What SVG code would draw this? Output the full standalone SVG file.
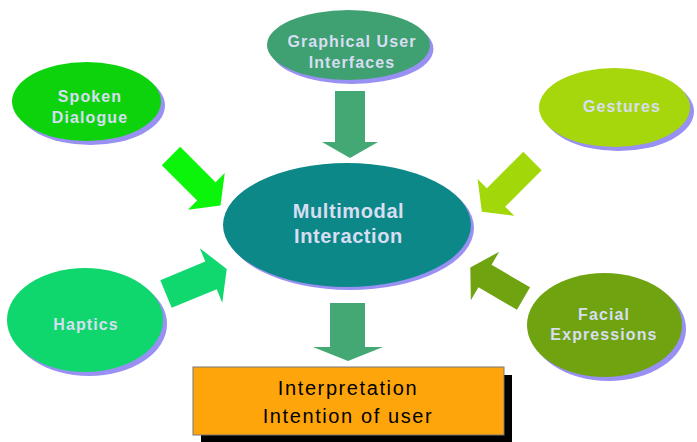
<svg xmlns="http://www.w3.org/2000/svg" width="697" height="442" viewBox="0 0 697 442">
<style>
.shadow{fill:#9890f2}
.lbl{font-family:"Liberation Sans",Arial,sans-serif;font-weight:bold;font-size:16px;fill:#d8def2;text-anchor:middle;letter-spacing:1.1px}
.big{font-size:20px;letter-spacing:0.6px}
.box{font-family:"Liberation Sans",Arial,sans-serif;font-size:20px;fill:#000;text-anchor:middle;letter-spacing:1.6px}
</style>
<rect width="697" height="442" fill="#fff"/>
<g id="connectors">
  <polygon fill="#0af50a" points="0,-13 50,-13 50,-26 70,0 50,26 50,13 0,13" transform="translate(171,156) rotate(45)"/>
  <polygon fill="#a2d80a" points="0,-13 51.6,-13 51.6,-26 71.6,0 51.6,26 51.6,13 0,13" transform="translate(532.5,161) rotate(135)"/>
  <polygon fill="#10d76e" points="0,-15 48.7,-15 48.7,-29.5 65.7,0 48.7,29.5 48.7,15 0,15" transform="translate(166,294) rotate(-22.4)"/>
  <polygon fill="#6fa30f" points="0,-13 44.6,-13 44.6,-28 61.6,0 44.6,28 44.6,13 0,13" transform="translate(523.5,298.5) rotate(-149.7)"/>
  <polygon fill="#43a874" points="335,91 365,91 365,142 378,142 350,158 322,142 335,142"/>
  <polygon fill="#43a874" points="330,303 365,303 365,347 383,347 348,361 313,347 330,347"/>
</g>
<g id="spoken">
  <ellipse class="shadow" cx="90.5" cy="105.5" rx="74.5" ry="39.5"/>
  <ellipse cx="86.5" cy="101.5" rx="74.5" ry="39.5" fill="#0dd30d"/>
  <text class="lbl" x="90" y="102">Spoken</text>
  <text class="lbl" x="90" y="123">Dialogue</text>
</g>
<g id="gui">
  <ellipse class="shadow" cx="352" cy="49" rx="81.5" ry="35"/>
  <ellipse cx="348.5" cy="45" rx="81.5" ry="35" fill="#3fa072"/>
  <text class="lbl" x="352" y="47">Graphical User</text>
  <text class="lbl" x="352" y="68">Interfaces</text>
</g>
<g id="gestures">
  <ellipse class="shadow" cx="618.5" cy="111.5" rx="75.5" ry="39.5"/>
  <ellipse cx="614.5" cy="107.5" rx="75.5" ry="39.5" fill="#a6d60c"/>
  <text class="lbl" x="622" y="112">Gestures</text>
</g>
<g id="multimodal">
  <ellipse class="shadow" cx="350" cy="228" rx="124" ry="62"/>
  <ellipse cx="347" cy="225" rx="124" ry="62" fill="#0d8888"/>
  <text class="lbl big" x="348.5" y="218">Multimodal</text>
  <text class="lbl big" x="348.5" y="243">Interaction</text>
</g>
<g id="haptics">
  <ellipse class="shadow" cx="89" cy="324" rx="78" ry="52"/>
  <ellipse cx="85" cy="320" rx="78" ry="52" fill="#10d66e"/>
  <text class="lbl" x="86" y="330">Haptics</text>
</g>
<g id="facial">
  <ellipse class="shadow" cx="608.5" cy="329" rx="77.5" ry="52"/>
  <ellipse cx="604.5" cy="325" rx="77.5" ry="52" fill="#6fa30f"/>
  <text class="lbl" x="604" y="320">Facial</text>
  <text class="lbl" x="604" y="340">Expressions</text>
</g>
<g id="interpretation">
  <rect x="201" y="375" width="311" height="68" fill="#000"/>
  <rect x="193" y="367" width="311" height="68" fill="#ffa50c" stroke="#777" stroke-width="1"/>
  <text class="box" x="348" y="395">Interpretation</text>
  <text class="box" x="348" y="423">Intention of user</text>
</g>
</svg>
